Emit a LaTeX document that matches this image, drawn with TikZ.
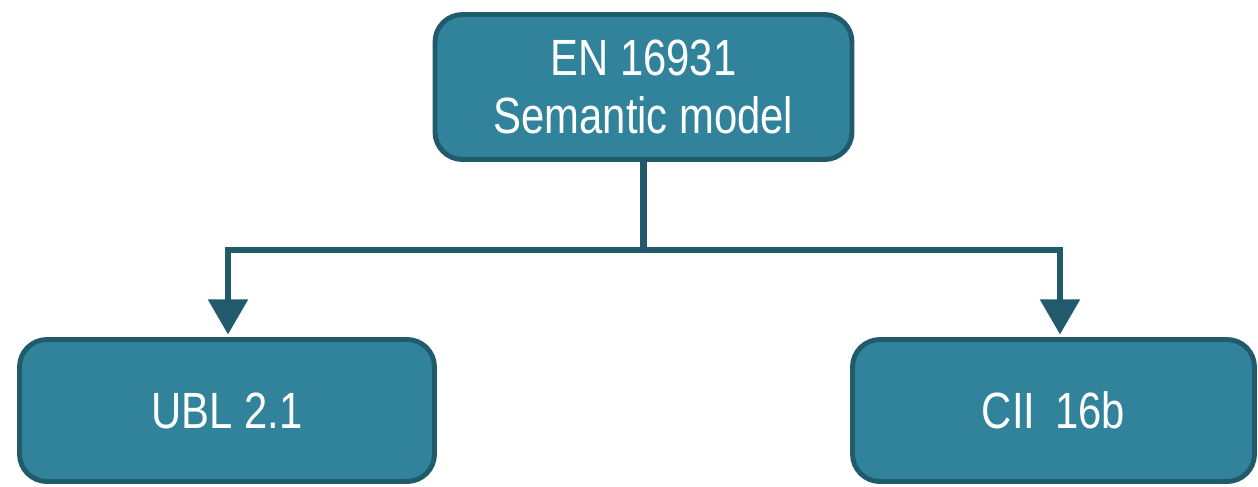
\documentclass[tikz,border=0pt]{standalone}
\usepackage{fontspec}
\setmainfont{Liberation Sans}[FakeStretch=0.82]
\usepackage{tikz}
\usetikzlibrary{positioning,arrows.meta}

\definecolor{boxfill}{HTML}{31839B}
\definecolor{boxline}{HTML}{215A6A}

\tikzset{
	box/.style={draw=boxline, fill=boxfill, line width=2.8pt, rounded corners=0.55cm,
		text=white, align=center, font=\fontsize{29}{33}\selectfont, inner sep=0pt},
	link/.style={draw=boxline, line width=3.6pt, -{Triangle[width=22pt,length=20pt]}}
}

\begin{document}
\begin{tikzpicture}
	
	\useasboundingbox (0,0) rectangle (25.16,-9.72);
	
	\node[box, minimum width=8.34cm, minimum height=2.9cm] (model) at (12.87,-1.74) {EN 16931\\Semantic model};
	\node[box, minimum width=8.3cm, minimum height=2.84cm] (ubl) at (4.54,-8.21) {UBL 2.1};
	\node[box, minimum width=8.04cm, minimum height=2.84cm] (cii) at (21.07,-8.21) {CII\, 16b};
	
	\coordinate (split) at (12.87,-5.0);
	\draw[draw=boxline, line width=3.6pt] (model.south) -- (split);
	\draw[link] (split) -| ([xshift=0.02cm,yshift=0.05cm]ubl.north);
	\draw[link] (split) -| ([xshift=0.13cm,yshift=0.05cm]cii.north);
	
\end{tikzpicture}
\end{document}
